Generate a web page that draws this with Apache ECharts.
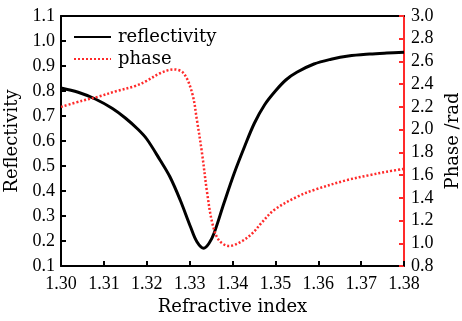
<!DOCTYPE html>
<html>
<head>
<meta charset="utf-8">
<script src="https://cdn.jsdelivr.net/npm/echarts@6/dist/echarts.min.js"></script>
<style>
  html, body { margin: 0; padding: 0; background: #fff; }
  #chart { width: 462px; height: 321px; }
</style>
</head>
<body>
<div id="chart"></div>
<script>
// refractive index samples + values
const reflX = [1.300, 1.304, 1.308, 1.312, 1.315, 1.318, 1.320, 1.3231, 1.3254, 1.3278,
  1.3302, 1.3317, 1.3333, 1.3345, 1.3357, 1.3380, 1.3404, 1.3428, 1.3451, 1.3475,
  1.350, 1.3525, 1.355, 1.359, 1.363, 1.367, 1.372, 1.376, 1.380]
const reflY = [0.812, 0.795, 0.768, 0.730, 0.692, 0.646, 0.608, 0.524, 0.457, 0.364,
  0.257, 0.197, 0.171, 0.190, 0.231, 0.351, 0.471, 0.577, 0.671, 0.745,
  0.800, 0.845, 0.875, 0.908, 0.927, 0.940, 0.948, 0.952, 0.955]

const phaseX = [1.300, 1.305, 1.3087, 1.313, 1.3173, 1.320, 1.3231, 1.3263, 1.3286, 1.3306,
  1.3317, 1.3329, 1.3341, 1.3353, 1.3368, 1.3392, 1.342, 1.3447, 1.3467, 1.3497,
  1.3551, 1.359, 1.3668, 1.372, 1.376, 1.380]
const phaseY = [2.20, 2.255, 2.29, 2.34, 2.384, 2.43, 2.496, 2.53, 2.496, 2.32,
  2.085, 1.79, 1.44, 1.176, 1.029, 0.976, 1.014, 1.09, 1.176, 1.293,
  1.41, 1.469, 1.557, 1.60, 1.63, 1.655]

const FONT = 'DejaVu Serif'
const TICK_FONT = 'Liberation Serif'
const RED = '#ff2a2a'

const chart = echarts.init(document.getElementById('chart'))

const option = {
  animation: false,
  grid: { left: 61, right: 58, top: 16, bottom: 55, outerBoundsMode: 'none' },
  legend: {
    orient: 'vertical',
    left: 68,
    top: 23,
    itemWidth: 37,
    itemHeight: 14,
    itemGap: 4,
    itemStyle: { opacity: 0 },
    textStyle: { fontFamily: FONT, fontSize: 18, color: '#000', lineHeight: 18, padding: [0, 0, 0, 2] },
    data: ['reflectivity', 'phase']
  },
  xAxis: [
    {
      type: 'value',
      min: 1.30,
      max: 1.38,
      interval: 0.01,
      name: 'Refractive index',
      nameLocation: 'middle',
      nameGap: 32,
      nameTextStyle: { fontFamily: FONT, fontSize: 18, color: '#000' },
      axisLine: { lineStyle: { color: '#000', width: 2 } },
      axisTick: { inside: true, length: 5, lineStyle: { color: '#000', width: 2 } },
      axisLabel: { fontFamily: TICK_FONT, fontSize: 18, color: '#000', margin: 9,
        formatter: v => v.toFixed(2) },
      splitLine: { show: false }
    },
    {
      type: 'value',
      position: 'top',
      min: 1.30,
      max: 1.38,
      axisLine: { lineStyle: { color: '#000', width: 2 } },
      axisTick: { show: false },
      axisLabel: { show: false },
      splitLine: { show: false }
    }
  ],
  yAxis: [
    {
      type: 'value',
      min: 0.1,
      max: 1.1,
      interval: 0.1,
      name: 'Reflectivity',
      nameLocation: 'middle',
      nameGap: 39,
      nameTextStyle: { fontFamily: FONT, fontSize: 18, color: '#000' },
      axisLine: { show: true, lineStyle: { color: '#000', width: 2 } },
      axisTick: { show: true, inside: true, length: 5, lineStyle: { color: '#000', width: 2 } },
      axisLabel: { fontFamily: TICK_FONT, fontSize: 18, color: '#000', margin: 6,
        formatter: v => v.toFixed(1) },
      splitLine: { show: false }
    },
    {
      type: 'value',
      position: 'right',
      min: 0.8,
      max: 3.0,
      interval: 0.2,
      name: 'Phase /rad',
      nameLocation: 'middle',
      nameGap: 40,
      nameTextStyle: { fontFamily: FONT, fontSize: 18, color: '#000' },
      axisLine: { show: true, lineStyle: { color: RED, width: 2 } },
      axisTick: { show: true, inside: true, length: 5, lineStyle: { color: RED, width: 2 } },
      axisLabel: { fontFamily: TICK_FONT, fontSize: 18, color: '#000', margin: 7,
        formatter: v => v.toFixed(1) },
      splitLine: { show: false }
    }
  ],
  series: [
    {
      name: 'reflectivity',
      type: 'line',
      xAxisIndex: 0,
      yAxisIndex: 0,
      smooth: 0.35,
      symbol: 'none',
      lineStyle: { color: '#000', width: 3 },
      itemStyle: { color: '#000' },
      data: reflX.map((x, i) => [x, reflY[i]])
    },
    {
      name: 'phase',
      type: 'line',
      xAxisIndex: 0,
      yAxisIndex: 1,
      smooth: 0.35,
      symbol: 'none',
      lineStyle: { color: RED, width: 2.5, type: [2, 2] },
      itemStyle: { color: RED },
      data: phaseX.map((x, i) => [x, phaseY[i]])
    }
  ]
}

chart.setOption(option)
</script>
</body>
</html>
